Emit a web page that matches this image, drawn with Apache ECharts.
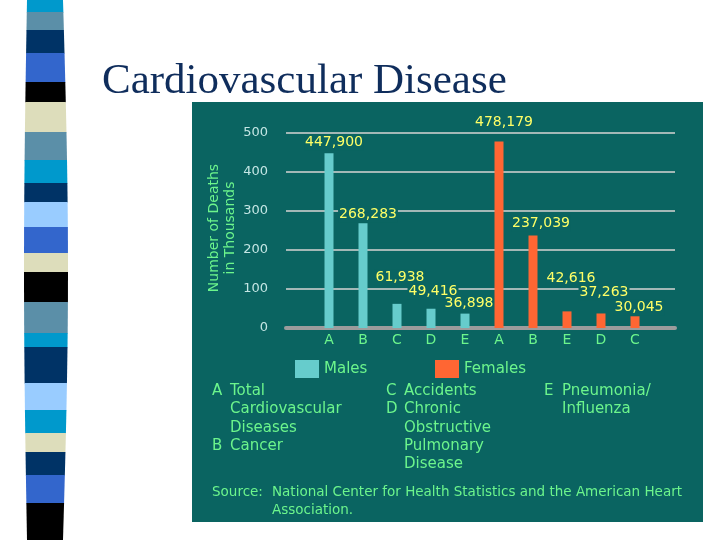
<!DOCTYPE html>
<html>
<head>
<meta charset="utf-8">
<script src="https://cdn.jsdelivr.net/npm/echarts@6/dist/echarts.min.js"></script>
<style>html,body{margin:0;padding:0;background:#fff}#c{width:720px;height:540px}</style>
</head>
<body>
<div id="c"></div>
<script>
// ---- data ----
const titleText = 'Cardiovascular Disease';
const maleCats = ['A', 'B', 'C', 'D', 'E'];
const maleDeaths = [447900, 268283, 61938, 49416, 36898];
const femaleCats = ['A', 'B', 'E', 'D', 'C'];
const femaleDeaths = [478179, 237039, 42616, 37263, 30045];
const yTicks = [0, 100, 200, 300, 400, 500];
const yAxisName = ['Number of Deaths', 'in Thousands'];
const seriesNames = ['Males', 'Females'];
const keyCol1 = [['A', ['Total', 'Cardiovascular', 'Diseases']], ['B', ['Cancer']]];
const keyCol2 = [['C', ['Accidents']], ['D', ['Chronic', 'Obstructive', 'Pulmonary', 'Disease']]];
const keyCol3 = [['E', ['Pneumonia/', 'Influenza']]];
const sourceLabel = 'Source:';
const sourceLines = ['National Center for Health Statistics and the American Heart', 'Association.'];

// ---- styles ----
const PANEL = '#0a6461';
const MALE = '#66cccc';
const FEMALE = '#ff6633';
const GREEN = '#6cf58c';
const YELLOW = '#ffff66';
const maleLabelDy = [2, 4, -13, -4, 3];
const maleLabelDx = [5, 5, 3, 2, 4];
const femaleLabelDy = [-6, 1, -20, -8, 4];
const femaleLabelDx = [5, 8, 4, 3, 4];
const stripeColors = ['#0099cc', '#5b8fa8', '#003366', '#3366cc', '#000000', '#ddddbb', '#5b8fa8', '#0099cc', '#003366', '#99ccff', '#3366cc', '#ddddbb', '#000000', '#5b8fa8', '#0099cc', '#003366', '#99ccff', '#0099cc', '#ddddbb', '#003366', '#3366cc', '#000000'];
const stripeEdges = [0, 12, 30, 53, 82, 102, 132, 160, 183, 202, 227, 253, 272, 302, 333, 347, 383, 410, 433, 452, 475, 503, 540];

const fmt = v => v.toLocaleString('en-US');
const FONT = 'DejaVu Sans';

const graphics = [];
// decorative stripe band
function leftX(y) { return 27 - 3 * Math.sin(Math.PI * y / 540); }
function rightX(y) { return 63 + 5 * Math.sin(Math.PI * y / 540); }
stripeColors.forEach((c, i) => {
  const y0 = stripeEdges[i], y1 = stripeEdges[i + 1] + 0.5;
  graphics.push({ type: 'polygon', z: -20, silent: true,
    shape: { points: [[leftX(y0), y0], [rightX(y0), y0], [rightX(y1), y1], [leftX(y1), y1]] },
    style: { fill: c } });
});
// panel
graphics.push({ type: 'rect', z: -10, silent: true, shape: { x: 192, y: 102, width: 511, height: 420 }, style: { fill: PANEL } });
// title
graphics.push({ type: 'text', x: 102, y: 82, style: { text: titleText, font: '43px "Liberation Serif"', fill: '#0f2d5c', verticalAlign: 'middle' } });
// y axis name (rotated)
yAxisName.forEach((t, i) => {
  graphics.push({ type: 'text', x: 214 + i * 16, y: 228, rotation: Math.PI / 2,
    style: { text: t, font: '14px "' + FONT + '"', fill: GREEN, align: 'center', verticalAlign: 'middle' } });
});
// key
function addKey(col, xLetter, xText) {
  let line = 0;
  col.forEach(([k, lines]) => {
    graphics.push({ type: 'text', x: xLetter, y: 391 + line * 18.4, style: { text: k, font: '15px "' + FONT + '"', fill: GREEN, verticalAlign: 'middle' } });
    lines.forEach(l => {
      graphics.push({ type: 'text', x: xText, y: 391 + line * 18.4, style: { text: l, font: '15px "' + FONT + '"', fill: GREEN, verticalAlign: 'middle' } });
      line++;
    });
  });
}
addKey(keyCol1, 212, 230);
addKey(keyCol2, 386, 404);
addKey(keyCol3, 544, 562);
graphics.push({ type: 'text', x: 212, y: 492, style: { text: sourceLabel, font: '13.5px "' + FONT + '"', fill: GREEN, verticalAlign: 'middle' } });
sourceLines.forEach((l, i) => {
  graphics.push({ type: 'text', x: 272, y: 492 + i * 18, style: { text: l, font: '13.5px "' + FONT + '"', fill: GREEN, verticalAlign: 'middle' } });
});

const catKeys = maleCats.map(c => 'M' + c).concat(femaleCats.map(c => 'F' + c));
const labelBase = { show: true, position: 'top', color: YELLOW, fontFamily: FONT, fontSize: 14, backgroundColor: PANEL, padding: [1, 1], formatter: p => fmt(p.data.raw) };

const option = {
  backgroundColor: '#ffffff',
  animation: false,
  graphic: { elements: graphics },
  legend: [
    { data: [seriesNames[0]], left: 290, top: 355, itemWidth: 24, itemHeight: 18, icon: 'rect', itemGap: 12, textStyle: { color: GREEN, fontFamily: FONT, fontSize: 15 } },
    { data: [seriesNames[1]], left: 430, top: 355, itemWidth: 24, itemHeight: 18, icon: 'rect', itemGap: 12, textStyle: { color: GREEN, fontFamily: FONT, fontSize: 15 } }
  ],
  grid: [
    { left: 312, right: 68, top: 133, bottom: 212 },
    { left: 286, right: 45, top: 133, bottom: 212 }
  ],
  xAxis: [
    { type: 'category', gridIndex: 0, data: catKeys, axisLine: { show: false }, axisTick: { show: false },
      axisLabel: { interval: 0, margin: 5, color: GREEN, fontFamily: FONT, fontSize: 14, formatter: v => v.slice(1) } },
    { type: 'value', gridIndex: 1, min: 0, max: 1, axisLabel: { show: false }, axisTick: { show: false }, splitLine: { show: false },
      axisLine: { show: true, lineStyle: { color: '#9c9c9c', width: 4 } } }
  ],
  yAxis: [
    { type: 'value', gridIndex: 0, min: yTicks[0], max: yTicks[yTicks.length - 1], interval: 100, show: false },
    { type: 'value', gridIndex: 1, min: yTicks[0], max: yTicks[yTicks.length - 1], interval: 100,
      axisLine: { show: false }, axisTick: { show: false },
      axisLabel: { margin: 18, color: '#c4e6e4', fontFamily: FONT, fontSize: 13 },
      splitLine: { lineStyle: { color: '#a3b8b6', width: 2 } } }
  ],
  series: [
    { name: seriesNames[0], type: 'bar', z: 2, xAxisIndex: 0, yAxisIndex: 0, barWidth: 9, barGap: '-100%', itemStyle: { color: MALE },
      data: maleCats.map((c, i) => ({ value: ['M' + c, maleDeaths[i] / 1000], raw: maleDeaths[i],
        label: Object.assign({}, labelBase, { offset: [maleLabelDx[i], maleLabelDy[i]] }) })) },
    { name: seriesNames[1], type: 'bar', z: 3, xAxisIndex: 0, yAxisIndex: 0, barWidth: 9, barGap: '-100%', itemStyle: { color: FEMALE },
      data: femaleCats.map((c, i) => ({ value: ['F' + c, femaleDeaths[i] / 1000], raw: femaleDeaths[i],
        label: Object.assign({}, labelBase, { offset: [femaleLabelDx[i], femaleLabelDy[i]] }) })) }
  ]
};
const chart = echarts.init(document.getElementById('c'), null, { renderer: 'canvas' });
chart.setOption(option);
</script>
</body>
</html>
